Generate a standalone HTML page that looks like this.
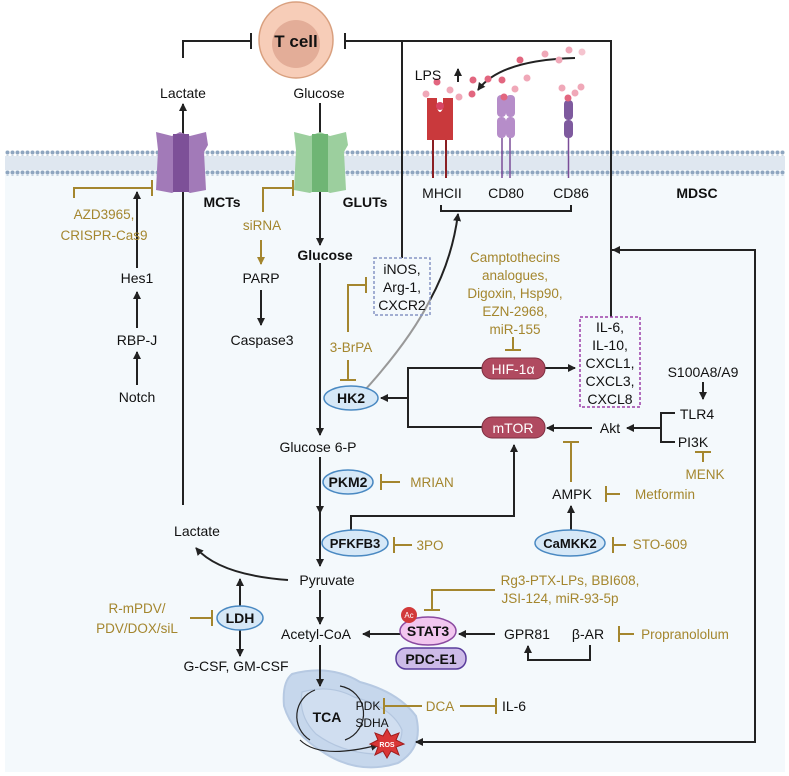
<!DOCTYPE html>
<html><head><meta charset="utf-8"><style>
html,body{margin:0;padding:0;background:#fff}
svg{display:block}
text{font-family:"Liberation Sans",sans-serif;font-size:14px;fill:#111;text-anchor:middle}
.g{fill:#a4862e;font-size:13.5px}
.b{font-weight:bold}
.w{fill:#fff}
</style></head><body>
<svg width="789" height="776" viewBox="0 0 789 776" xmlns="http://www.w3.org/2000/svg">
<defs>
<marker id="a" markerWidth="8" markerHeight="8" refX="7" refY="4" orient="auto" markerUnits="userSpaceOnUse"><path d="M0,0 L8,4 L0,8 z" fill="#222"/></marker>
<marker id="ag" markerWidth="8" markerHeight="8" refX="7" refY="4" orient="auto" markerUnits="userSpaceOnUse"><path d="M0,0 L8,4 L0,8 z" fill="#a4862e"/></marker>
<pattern id="dots" width="5" height="5" patternUnits="userSpaceOnUse"><circle cx="2.5" cy="2.5" r="2" fill="#8fa6c0"/></pattern>
</defs>
<rect x="5" y="160" width="780" height="612" fill="#f4f9fc"/>
<rect x="5" y="150" width="780" height="6" fill="url(#dots)"/>
<rect x="5" y="156" width="780" height="14" fill="#dfe7f0"/>
<rect x="5" y="170" width="780" height="6" fill="url(#dots)"/>

<!-- mitochondrion -->
<path d="M292,674 Q330,664 360,682 Q398,692 416,716 Q424,748 398,763 Q360,775 326,754 Q292,734 284,706 Q282,682 292,674 Z" fill="#c6d7ec" stroke="#b6c9e2" stroke-width="2"/>
<path d="M302,692 Q330,684 354,697 Q392,707 402,730 Q402,752 374,754 Q340,752 316,734 Q298,716 302,692Z" fill="#d0def0" stroke="#b3c6df" stroke-width="1.2"/>

<ellipse cx="296" cy="40" rx="37" ry="38" fill="#f7cdb8" stroke="#d9a07f" stroke-width="1.5"/>
<ellipse cx="296" cy="44" rx="24" ry="24" fill="#e3ad98"/>
<text x="296" y="47" class="b" style="font-size:17px">T cell</text>

<g stroke="#222" stroke-width="2" fill="none">
<path d="M183,58 V41 H251"/><path d="M251,33 V49"/>
<path d="M345,33 V49"/><path d="M345,41 H611 V317"/>
<path d="M402,41 V258"/>
<path d="M183,505 V104" marker-end="url(#a)"/>
<path d="M320,103 V245" marker-end="url(#a)"/>
<path d="M137,268 V192" marker-end="url(#a)"/>
<path d="M137,328 V292" marker-end="url(#a)"/>
<path d="M137,385 V352" marker-end="url(#a)"/>
<path d="M261,290 V325" marker-end="url(#a)"/>
<path d="M320,263 V435" marker-end="url(#a)"/>
<path d="M320,457 V513" marker-end="url(#a)"/>
<path d="M320,513 V566" marker-end="url(#a)"/>
<path d="M320,590 V624" marker-end="url(#a)"/>
<path d="M320,645 V686" marker-end="url(#a)"/>
<path d="M441,205 V211 H571 V205"/>
<path d="M408,398 H381" marker-end="url(#a)"/>
<path d="M482,368 H408 V427 H482"/>
<path d="M545,368 H575" marker-end="url(#a)"/>
<path d="M592,428 H547" marker-end="url(#a)"/>
<path d="M661,428 H627" marker-end="url(#a)"/>
<path d="M675,413 H661 V442 H675"/>
<path d="M703,382 V399" marker-end="url(#a)"/>
<path d="M571,532 V506" marker-end="url(#a)"/>
<path d="M351,530 V516 H514 V445" marker-end="url(#a)"/>
<path d="M240,606 V579" marker-end="url(#a)"/>
<path d="M240,630 V656" marker-end="url(#a)"/>
<path d="M288,580 Q220,575 196,548" marker-end="url(#a)"/>
<path d="M400,634 H363" marker-end="url(#a)"/>
<path d="M495,634 H459" marker-end="url(#a)"/>
<path d="M590,645 V660 H528 V646" marker-end="url(#a)"/>
<path d="M612,250 H755 V742 H416" marker-end="url(#a)"/>
<path d="M575,58 Q500,60 478,90" marker-end="url(#a)"/>
<path d="M430,300 Q452,260 458,214" marker-end="url(#a)"/>
</g>
<path d="M612,250 l8,-4 v8z" fill="#222"/>
<path d="M365,390 Q410,340 430,300" stroke="#999" stroke-width="2" fill="none"/>

<g stroke="#a4862e" stroke-width="2" fill="none">
<path d="M74,198 V188 H152"/><path d="M152,180 V196"/>
<path d="M263,212 V188 H293"/><path d="M293,180 V196"/>
<path d="M261,240 V264" marker-end="url(#ag)"/>
<path d="M348,332 V285 H366"/><path d="M366,277 V293"/>
<path d="M348,360 V380"/><path d="M340,380 H356"/>
<path d="M513,337 V350"/><path d="M505,350 H521"/>
<path d="M381,482 H400"/><path d="M381,474 V490"/>
<path d="M394,545 H412"/><path d="M394,537 V553"/>
<path d="M571,482 V442"/><path d="M563,442 H579"/>
<path d="M606,494 H620"/><path d="M606,486 V502"/>
<path d="M703,462 V452"/><path d="M695,452 H711"/>
<path d="M613,545 H626"/><path d="M613,537 V553"/>
<path d="M190,618 H212"/><path d="M212,610 V626"/>
<path d="M495,590 H432 V610"/><path d="M424,610 H440"/>
<path d="M619,634 H634"/><path d="M619,626 V642"/>
<path d="M384,706 H422"/><path d="M384,698 V714"/>
<path d="M460,706 H496"/><path d="M496,698 V714"/>
</g>

<path d="M156,132 L172,136 L180,132 L190,136 L206,132 L208,145 L204,152 L206,190 L190,193 L181,188 L172,193 L156,190 L158,150 Z" fill="#a27ab8"/>
<rect x="173" y="134" width="16" height="58" fill="#7d5098"/>
<path d="M294,132 L310,136 L320,132 L330,136 L346,132 L348,145 L344,152 L346,190 L330,193 L320,188 L310,193 L294,190 L296,150 Z" fill="#9ccf9e"/>
<rect x="312" y="134" width="16" height="58" fill="#6fb574"/>

<path d="M427,98 h10 v10 q3,8 6,0 v-10 h10 v42 h-26z" fill="#c9393c"/>
<line x1="433" y1="140" x2="433" y2="178" stroke="#8a1e22" stroke-width="2"/>
<line x1="446" y1="140" x2="446" y2="178" stroke="#8a1e22" stroke-width="2"/>
<circle cx="440" cy="106" r="4" fill="#d84565"/>
<rect x="497" y="95" width="9" height="22" rx="4" fill="#b68dc9"/><rect x="506" y="95" width="9" height="22" rx="4" fill="#b68dc9"/>
<rect x="497" y="117" width="9" height="21" rx="4" fill="#b68dc9"/><rect x="506" y="117" width="9" height="21" rx="4" fill="#b68dc9"/>
<line x1="502" y1="138" x2="502" y2="178" stroke="#7a4d98" stroke-width="1.5"/><line x1="510" y1="138" x2="510" y2="178" stroke="#7a4d98" stroke-width="1.5"/>
<rect x="564" y="100" width="9" height="20" rx="4" fill="#7e5a9e"/><rect x="564" y="120" width="9" height="18" rx="4" fill="#7e5a9e"/>
<line x1="568.5" y1="138" x2="568.5" y2="178" stroke="#7a4d98" stroke-width="1.5"/>
<g fill="#e2667f">
<circle cx="437" cy="82" r="3.5"/><circle cx="426" cy="94" r="3.5" fill="#f0a8b8"/><circle cx="450" cy="90" r="3.5" fill="#f0a8b8"/><circle cx="459" cy="97" r="3.5" fill="#f0a8b8"/>
<circle cx="473" cy="80" r="3.5"/><circle cx="488" cy="79" r="3.5"/><circle cx="502" cy="80" r="3.5"/><circle cx="472" cy="94" r="3.5"/>
<circle cx="520" cy="60" r="3.5"/><circle cx="527" cy="78" r="3.5" fill="#f0a8b8"/><circle cx="515" cy="89" r="3.5" fill="#f0a8b8"/><circle cx="504" cy="97" r="3.5"/>
<circle cx="545" cy="54" r="3.5" fill="#f0a8b8"/><circle cx="559" cy="60" r="3.5" fill="#f0a8b8"/><circle cx="569" cy="50" r="3.5" fill="#f0a8b8"/><circle cx="582" cy="52" r="3.5" fill="#f5c4cf"/>
<circle cx="562" cy="88" r="3.5" fill="#f0a8b8"/><circle cx="575" cy="93" r="3.5" fill="#f0a8b8"/><circle cx="581" cy="87" r="3.5" fill="#f0a8b8"/><circle cx="568" cy="98" r="3.5"/>
</g>
<text x="428" y="80">LPS</text>
<path d="M458,82 V69" stroke="#222" stroke-width="2" marker-end="url(#a)"/>

<text x="183" y="98">Lactate</text>
<text x="319" y="98">Glucose</text>
<text x="222" y="207" class="b">MCTs</text>
<text x="365" y="207" class="b">GLUTs</text>
<text x="442" y="198">MHCII</text>
<text x="506" y="198">CD80</text>
<text x="571" y="198">CD86</text>
<text x="697" y="198" class="b">MDSC</text>
<text x="104" y="219" class="g">AZD3965,</text>
<text x="104" y="240" class="g">CRISPR-Cas9</text>
<text x="262" y="230" class="g">siRNA</text>
<text x="325" y="260" class="b">Glucose</text>
<text x="137" y="283">Hes1</text>
<text x="137" y="345">RBP-J</text>
<text x="137" y="402">Notch</text>
<text x="261" y="283">PARP</text>
<text x="262" y="345">Caspase3</text>
<rect x="374" y="258" width="56" height="57" fill="none" stroke="#8796c4" stroke-width="1.5" stroke-dasharray="3,2"/>
<text x="402" y="274">iNOS,</text><text x="402" y="292">Arg-1,</text><text x="402" y="310">CXCR2</text>
<text x="351" y="352" class="g">3-BrPA</text>
<text x="515" y="262" class="g">Camptothecins</text>
<text x="515" y="280" class="g">analogues,</text>
<text x="515" y="298" class="g">Digoxin, Hsp90,</text>
<text x="515" y="316" class="g">EZN-2968,</text>
<text x="515" y="334" class="g">miR-155</text>
<rect x="580" y="317" width="60" height="90" fill="none" stroke="#9b3fa8" stroke-width="1.5" stroke-dasharray="3,2"/>
<text x="610" y="332">IL-6,</text><text x="610" y="350">IL-10,</text><text x="610" y="368">CXCL1,</text><text x="610" y="386">CXCL3,</text><text x="610" y="404">CXCL8</text>
<rect x="482" y="358" width="63" height="21" rx="10" fill="#b04a60" stroke="#7d2e40"/>
<text x="513" y="374" class="w">HIF-1α</text>
<rect x="482" y="417" width="63" height="21" rx="10" fill="#b04a60" stroke="#7d2e40"/>
<text x="513" y="433" class="w">mTOR</text>
<ellipse cx="351" cy="398" rx="27" ry="12" fill="#d6e8f7" stroke="#4a89c2" stroke-width="1.5"/>
<text x="351" y="403" class="b">HK2</text>
<text x="703" y="377">S100A8/A9</text>
<text x="697" y="419">TLR4</text>
<text x="693" y="447">PI3K</text>
<text x="610" y="433">Akt</text>
<text x="705" y="479" class="g">MENK</text>
<text x="318" y="452">Glucose 6-P</text>
<ellipse cx="348" cy="482" rx="25" ry="12" fill="#d6e8f7" stroke="#4a89c2" stroke-width="1.5"/>
<text x="348" y="487" class="b">PKM2</text>
<text x="432" y="487" class="g">MRIAN</text>
<text x="572" y="499">AMPK</text>
<text x="665" y="499" class="g">Metformin</text>
<ellipse cx="355" cy="543" rx="33" ry="13" fill="#d6e8f7" stroke="#4a89c2" stroke-width="1.5"/>
<text x="355" y="548" class="b" style="font-size:13px">PFKFB3</text>
<text x="430" y="550" class="g">3PO</text>
<ellipse cx="570" cy="543" rx="35" ry="13" fill="#d6e8f7" stroke="#4a89c2" stroke-width="1.5"/>
<text x="570" y="548" class="b" style="font-size:13px">CaMKK2</text>
<text x="660" y="549" class="g">STO-609</text>
<text x="197" y="536">Lactate</text>
<text x="327" y="585">Pyruvate</text>
<text x="570" y="585" class="g">Rg3-PTX-LPs, BBI608,</text>
<text x="560" y="603" class="g">JSI-124, miR-93-5p</text>
<text x="137" y="613" class="g">R-mPDV/</text>
<text x="137" y="633" class="g">PDV/DOX/siL</text>
<ellipse cx="240" cy="618" rx="23" ry="12" fill="#d6e8f7" stroke="#4a89c2" stroke-width="1.5"/>
<text x="240" y="623" class="b">LDH</text>
<text x="316" y="639">Acetyl-CoA</text>
<ellipse cx="428" cy="631" rx="28" ry="14" fill="#f2c6ef" stroke="#8a4aa0" stroke-width="1.5"/>
<text x="428" y="636" class="b">STAT3</text>
<circle cx="409" cy="615" r="8" fill="#d23a3a"/>
<text x="409" y="618" class="w" style="font-size:8px">Ac</text>
<rect x="396" y="648" width="70" height="21" rx="10" fill="#cdbbe8" stroke="#5a3d9c" stroke-width="1.5"/>
<text x="431" y="664" class="b">PDC-E1</text>
<text x="527" y="639">GPR81</text>
<text x="588" y="639">β-AR</text>
<text x="685" y="639" class="g">Propranololum</text>
<text x="236" y="671">G-CSF, GM-CSF</text>
<g stroke="#222" stroke-width="1.2" fill="none">
<path d="M340,686 A28,28 0 0 1 345,740"/><path d="M310,740 A28,28 0 0 1 315,690"/>
<path d="M300,740 Q320,760 378,745" marker-end="url(#a)"/>
</g>
<text x="327" y="722" class="b">TCA</text>
<text x="368" y="710" style="font-size:12px">PDK</text>
<text x="372" y="727" style="font-size:12px">SDHA</text>
<text x="440" y="711" class="g">DCA</text>
<text x="514" y="711">IL-6</text>
<polygon points="387,729 391,736 399,733 396,740 404,744 396,747 399,755 391,751 387,758 383,751 375,755 378,747 370,744 378,740 375,733 383,736" fill="#d93636" stroke="#a01c1c"/>
<text x="387" y="747" class="w b" style="font-size:7px">ROS</text>
</svg>
</body></html>
